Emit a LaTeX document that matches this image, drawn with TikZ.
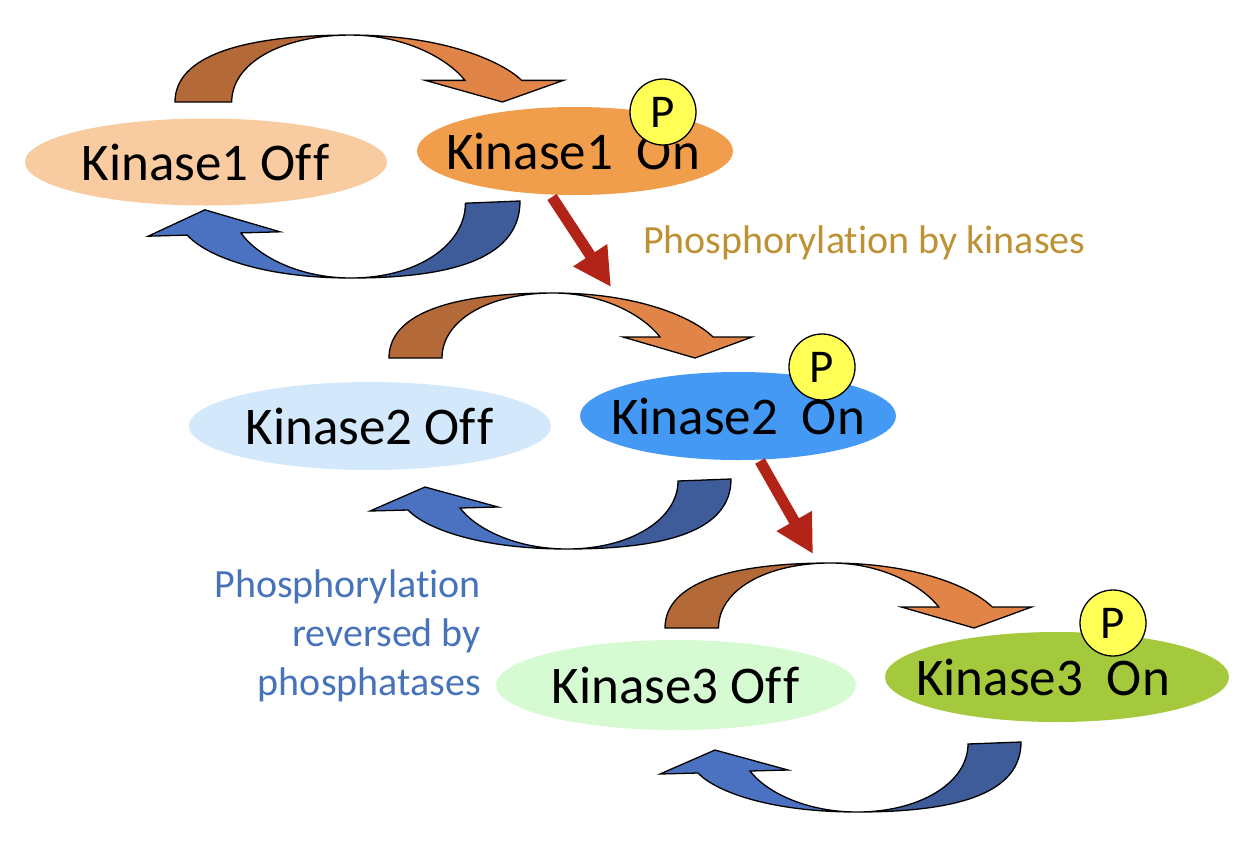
\documentclass[tikz,border=0pt]{standalone}
\usepackage{fontspec}
\setmainfont[Ligatures=NoCommon,RawFeature=-liga]{Carlito}
\usetikzlibrary{shapes.geometric,arrows.meta}
\definecolor{orL}{HTML}{B36938}
\definecolor{orR}{HTML}{E08448}
\definecolor{blL}{HTML}{4A72C0}
\definecolor{blR}{HTML}{3D5C99}
\definecolor{kAoff}{HTML}{F8CBA0}
\definecolor{kAon}{HTML}{F09D4C}
\definecolor{kBoff}{HTML}{D3E9FB}
\definecolor{kBon}{HTML}{4399F3}
\definecolor{kCoff}{HTML}{D6FBD3}
\definecolor{kCon}{HTML}{A5C93D}
\definecolor{pyel}{HTML}{FFFF55}
\definecolor{redc}{HTML}{B22418}
\definecolor{goldtxt}{HTML}{BE9234}
\definecolor{bluetxt}{HTML}{4673B9}
\newcommand{\OffWord}{Of\kern2pt f}
\newcommand{\OrangeArc}{%
 \fill[orL] (0,0) .. controls (0,-45) and (64,-65) .. (164,-65) .. controls (100,-65) and (53,-38) .. (53,0) -- cycle;
 \fill[orR] (164,-65) .. controls (250,-65) and (305,-40) .. (324,-21) -- (363,-21) -- (306,0) -- (234,-21) -- (271,-21) .. controls (255,-42) and (215,-65) .. (164,-65) -- cycle;
 \draw[outl] (0,0) .. controls (0,-45) and (64,-65) .. (164,-65) .. controls (250,-65) and (305,-40) .. (324,-21) -- (363,-21) -- (306,0) -- (234,-21) -- (271,-21) .. controls (255,-42) and (215,-65) .. (164,-65) .. controls (100,-65) and (53,-38) .. (53,0) -- cycle;
}
\newcommand{\BlueArc}{%
 \fill[blR] (0,0) .. controls (0,50) and (-60,70) .. (-164,70) .. controls (-100,70) and (-53,40) .. (-53,2) -- cycle;
 \fill[blL] (-164,70) .. controls (-250,70) and (-305,50) .. (-323,31) -- (-361,32) -- (-306,8) -- (-233,28) -- (-271,29) .. controls (-255,50) and (-215,70) .. (-164,70) -- cycle;
 \draw[outl] (0,0) .. controls (0,50) and (-60,70) .. (-164,70) .. controls (-250,70) and (-305,50) .. (-323,31) -- (-361,32) -- (-306,8) -- (-233,28) -- (-271,29) .. controls (-255,50) and (-215,70) .. (-164,70) .. controls (-100,70) and (-53,40) .. (-53,2) -- cycle;
}
\begin{document}
\begin{tikzpicture}[x=1pt,y=-1pt,
  outl/.style={draw=black, line width=1.3pt, line join=miter},
  ell/.style={ellipse, draw=none, inner sep=0pt},
  ktxt/.style={font=\fontsize{53}{60}\selectfont, text=black},
  pcirc/.style={circle, draw=black, line width=1.3pt, fill=pyel, minimum size=66pt, inner sep=0pt, font=\fontsize{47}{50}\selectfont},
  redarrow/.style={draw=redc, line width=11pt, -{Triangle[length=38pt,width=38pt]}},
  lbl/.style={font=\fontsize{40}{49}\selectfont}]
\useasboundingbox (0,0) rectangle (1242,860);
% cycle arrows
\begin{scope}[shift={(175,102)}, xscale=1.07, yscale=1.03]\OrangeArc\end{scope}
\begin{scope}[shift={(520,201)}, xscale=1.03, yscale=1.1]\BlueArc\end{scope}
\begin{scope}[shift={(389,358)}]\OrangeArc\end{scope}
\begin{scope}[shift={(731,479)}]\BlueArc\end{scope}
\begin{scope}[shift={(665,628)}, xscale=1.01]\OrangeArc\end{scope}
\begin{scope}[shift={(1021,742)}]\BlueArc\end{scope}
% ellipses
\node[ell, fill=kAoff, minimum width=362pt, minimum height=87pt, label={[ktxt]center:Kinase1 \OffWord}] (k1off) at (206,162) {};
\node[ell, fill=kAon, minimum width=316pt, minimum height=88pt, label={[ktxt,xshift=-2pt]center:Kinase1\ \ On}] (k1on) at (575,151) {};
\node[ell, fill=kBoff, minimum width=362pt, minimum height=88pt, label={[ktxt]center:Kinase2 \OffWord}] (k2off) at (370,426) {};
\node[ell, fill=kBon, minimum width=316pt, minimum height=88pt, label={[ktxt]center:Kinase2\ \ On}] (k2on) at (738,416) {};
\node[ell, fill=kCoff, minimum width=360pt, minimum height=90pt, label={[ktxt]center:Kinase3 \OffWord}] (k3off) at (676,685) {};
\node[ell, fill=kCon, minimum width=344pt, minimum height=90pt, label={[ktxt,xshift=-14pt]center:Kinase3\ \ On}] (k3on) at (1057,677) {};
% P badges
\node[pcirc] (p1) at (663,112) {P};
\node[pcirc] (p2) at (822,367) {P};
\node[pcirc] (p3) at (1113,623) {P};
% red cascade arrows
\coordinate (r1a) at (552,197);
\coordinate (r1b) at (611,287);
\coordinate (r2a) at (760,461);
\coordinate (r2b) at (813,554);
\draw[redarrow] (r1a) -- (r1b);
\draw[redarrow] (r2a) -- (r2b);
% labels
\node[lbl, text=goldtxt, anchor=west, inner sep=0pt] (phk) at (643,243) {Phosphorylation by kinases};
\node[lbl, text=bluetxt, anchor=east, align=right, inner sep=0pt] (php) at (481,636) {Phosphorylation\\reversed by\\phosphatases};
\end{tikzpicture}
\end{document}
